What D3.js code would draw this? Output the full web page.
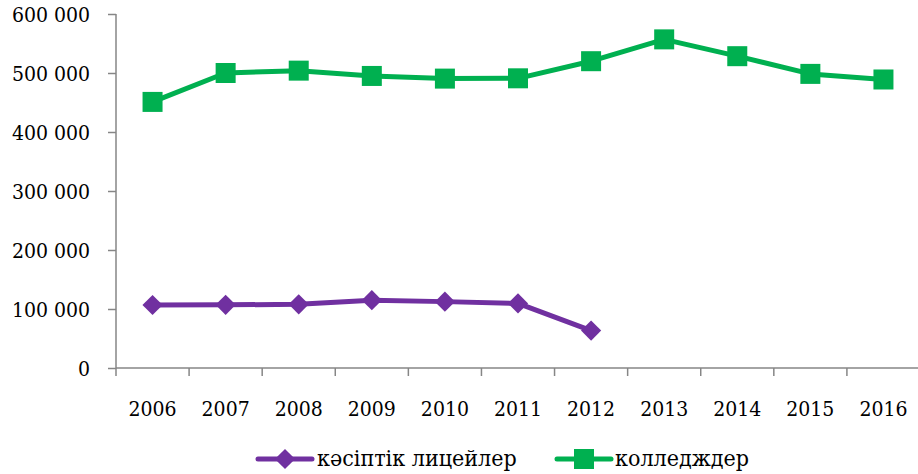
<!DOCTYPE html>
<html>
<head>
<meta charset="utf-8">
<script src="https://cdn.jsdelivr.net/npm/d3@7"></script>
<style>
  body { margin: 0; background: #fff; }
  svg text { font-stretch: condensed; }
</style>
</head>
<body>
<svg id="chart" width="918" height="474"></svg>
<script>
// Data
const years = ["2006", "2007", "2008", "2009", "2010", "2011", "2012", "2013", "2014", "2015", "2016"];
const lyceums = [106800, 107000, 108000, 115000, 112500, 109500, 63500];
const colleges = [451000, 500000, 504000, 495000, 490500, 491000, 520000, 557000, 528500, 498500, 489000];
const yTicks = [0, 100000, 200000, 300000, 400000, 500000, 600000];
const seriesNames = ["кәсіптік лицейлер", "колледждер"];

const svg = d3.select("#chart");
const plotLeft = 116, plotRight = 920, plotTop = 14, plotBottom = 368;
const axisColor = "#868686";
const serif = "DejaVu Serif Condensed, DejaVu Serif, serif";

const x = d3.scaleBand().domain(years).range([plotLeft, plotRight]);
const y = d3.scaleLinear().domain([0, 600000]).range([plotBottom, plotTop]);

const fmt = d3.formatLocale({ decimal: ",", thousands: "\u00a0", grouping: [3], currency: ["", ""] }).format(",");

// Y axis
const yAxis = svg.append("g")
    .attr("transform", `translate(${plotLeft},0)`)
    .call(d3.axisLeft(y).tickValues(yTicks).tickSize(8).tickPadding(18).tickFormat(d => fmt(d)));
yAxis.attr("font-family", serif).attr("font-size", 21);
yAxis.selectAll("line, path").attr("stroke", axisColor).attr("stroke-width", 1.5);
yAxis.select("path").attr("d", `M0,${plotTop}V${plotBottom}`);
yAxis.selectAll("text").attr("fill", "#000").attr("dy", "0.34em");

// X axis: ticks between categories, labels in the middle
const xAxis = svg.append("g").attr("font-family", serif).attr("font-size", 21);
xAxis.append("line")
    .attr("x1", plotLeft).attr("x2", plotRight)
    .attr("y1", plotBottom).attr("y2", plotBottom)
    .attr("stroke", axisColor).attr("stroke-width", 1.5);
xAxis.selectAll(".tick")
    .data(years)
    .join("line")
    .attr("x1", d => x(d)).attr("x2", d => x(d))
    .attr("y1", plotBottom).attr("y2", plotBottom + 8)
    .attr("stroke", axisColor).attr("stroke-width", 1.5);
xAxis.selectAll(".lbl")
    .data(years)
    .join("text")
    .attr("x", d => x(d) + x.bandwidth() / 2)
    .attr("y", 416)
    .attr("text-anchor", "middle")
    .text(d => d);

const cx = (d, i) => x(years[i]) + x.bandwidth() / 2;
const line = d3.line().x(cx).y(d => y(d));

// Lyceums (purple, diamonds)
svg.append("path")
    .datum(lyceums)
    .attr("d", line)
    .attr("fill", "none")
    .attr("stroke", "#7030A0")
    .attr("stroke-width", 5)
    .attr("stroke-linejoin", "round");
const diamond = d3.symbol().type(d3.symbolDiamond2).size(260);
svg.selectAll(".dia")
    .data(lyceums)
    .join("path")
    .attr("transform", (d, i) => `translate(${cx(d, i)},${y(d)})`)
    .attr("d", diamond)
    .attr("fill", "#7030A0");

// Colleges (green, squares)
svg.append("path")
    .datum(colleges)
    .attr("d", line)
    .attr("fill", "none")
    .attr("stroke", "#00B050")
    .attr("stroke-width", 5)
    .attr("stroke-linejoin", "round");
svg.selectAll(".sq")
    .data(colleges)
    .join("rect")
    .attr("x", (d, i) => cx(d, i) - 10)
    .attr("y", d => y(d) - 10)
    .attr("width", 20)
    .attr("height", 20)
    .attr("fill", "#00B050");

// Legend
const legend = svg.append("g")
    .attr("transform", "translate(0,459)")
    .attr("font-family", serif).attr("font-size", 23);
const items = [
  { name: seriesNames[0], color: "#7030A0", x0: 258, tx: 317, mark: "diamond" },
  { name: seriesNames[1], color: "#00B050", x0: 557, tx: 615, mark: "square" }
];
items.forEach(it => {
  legend.append("line")
      .attr("x1", it.x0).attr("x2", it.x0 + 54)
      .attr("y1", 0).attr("y2", 0)
      .attr("stroke", it.color).attr("stroke-width", 5)
      .attr("stroke-linecap", "round");
  if (it.mark === "diamond") {
    legend.append("path")
        .attr("transform", `translate(${it.x0 + 27},0)`)
        .attr("d", diamond)
        .attr("fill", it.color);
  } else {
    legend.append("rect")
        .attr("x", it.x0 + 17).attr("y", -10)
        .attr("width", 20).attr("height", 20)
        .attr("fill", it.color);
  }
  legend.append("text")
      .attr("x", it.tx).attr("y", 7)
      .text(it.name);
});
</script>
</body>
</html>
